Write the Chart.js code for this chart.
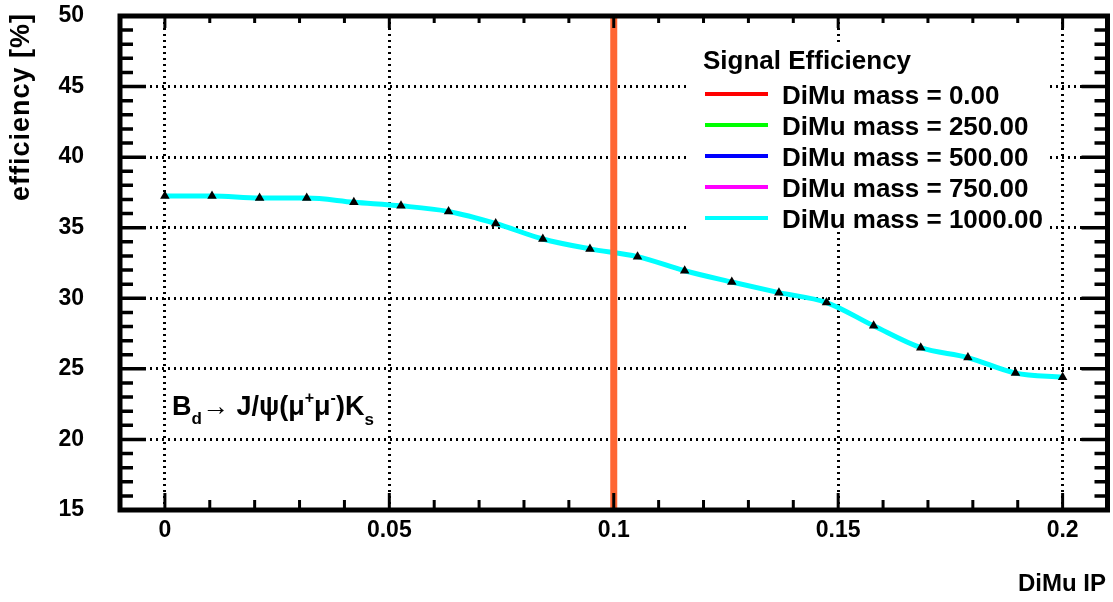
<!DOCTYPE html>
<html>
<head>
<meta charset="utf-8">
<script src="https://cdn.jsdelivr.net/npm/chart.js@4.4.1/dist/chart.umd.min.js"></script>
<style>
  html, body { margin: 0; padding: 0; background: #fff; }
  #wrap { width: 1113px; height: 602px; }
</style>
</head>
<body>
<div id="wrap"><canvas id="effChart" width="1113" height="602"></canvas></div>
<script>
// data
const ipValues = [0, 0.0105, 0.0211, 0.0316, 0.0421, 0.0526, 0.0632, 0.0737, 0.0842, 0.0947,
                  0.1053, 0.1158, 0.1263, 0.1368, 0.1474, 0.1579, 0.1684, 0.1789, 0.1895, 0.2];
const effValues = [37.25, 37.25, 37.1, 37.1, 36.8, 36.55, 36.15, 35.3, 34.2, 33.5,
                   32.95, 31.95, 31.15, 30.4, 29.7, 28.05, 26.5, 25.8, 24.7, 24.4];
const massLabels = ['DiMu mass = 0.00', 'DiMu mass = 250.00', 'DiMu mass = 500.00',
                    'DiMu mass = 750.00', 'DiMu mass = 1000.00'];
const massColors = ['#ff0000', '#00ff00', '#0000ff', '#ff00ff', '#00ffff'];
const xTickValues = [0, 0.05, 0.1, 0.15, 0.2];
const xTickLabels = ['0', '0.05', '0.1', '0.15', '0.2'];
const yTickValues = [15, 20, 25, 30, 35, 40, 45, 50];
const ipCut = [0.1, 0.1];
const cutRange = [15, 50];
const legendTitle = 'Signal Efficiency';
const xTitle = 'DiMu IP';
const yTitle = 'efficiency [%]';

const FONT = "'Liberation Sans', Arial, Helvetica, sans-serif";
const NARROW = "'Liberation Sans Narrow', 'Liberation Sans', Arial, sans-serif";

const points = ipValues.map((x, i) => ({ x, y: effValues[i] }));

const datasets = massLabels.map((label, i) => {
  const top = i === massLabels.length - 1;
  return {
    label,
    data: points,
    borderColor: massColors[i],
    borderWidth: top ? 5 : 3,
    cubicInterpolationMode: 'monotone',
    pointStyle: 'triangle',
    pointRadius: top ? 5.5 : 0,
    pointBackgroundColor: '#000',
    pointBorderColor: '#000',
    pointBorderWidth: 0,
    order: top ? 1 : 2
  };
});

datasets.push({
  label: 'cut',
  data: ipCut.map((x, i) => ({ x, y: cutRange[i] })),
  borderColor: '#ff6633',
  borderWidth: 7,
  pointRadius: 0,
  order: 0
});

// ROOT style frame, ticks, legend, axis titles and the decay label
const rootFrame = {
  id: 'rootFrame',
  afterDraw(chart) {
    const ctx = chart.ctx;
    const { left, right, top, bottom } = chart.chartArea;
    const xs = chart.scales.x, ys = chart.scales.y;
    ctx.save();

    // legend box
    ctx.fillStyle = '#fff';
    ctx.fillRect(690, 46, 358, 186);
    ctx.fillStyle = '#000';
    ctx.font = 'bold 26px ' + FONT;
    ctx.textBaseline = 'alphabetic';
    ctx.textAlign = 'left';
    ctx.fillText(legendTitle, 703, 69);
    const rowY = [94, 125, 156, 187, 218];
    massLabels.forEach((label, i) => {
      ctx.strokeStyle = massColors[i];
      ctx.lineWidth = 4;
      ctx.beginPath();
      ctx.moveTo(705, rowY[i]);
      ctx.lineTo(768, rowY[i]);
      ctx.stroke();
      ctx.fillStyle = '#000';
      ctx.fillText(label, 782, rowY[i] + 10);
    });

    // frame
    ctx.strokeStyle = '#000';
    ctx.lineWidth = 5;
    ctx.strokeRect(left, top, right - left, bottom - top);

    // y ticks (left and right)
    ctx.lineWidth = 3.5;
    for (let v = 15; v <= 50; v++) {
      const py = ys.getPixelForValue(v);
      const len = v % 5 === 0 ? 26 : 13;
      ctx.beginPath();
      ctx.moveTo(left, py); ctx.lineTo(left + len, py);
      ctx.moveTo(right, py); ctx.lineTo(right - len, py);
      ctx.stroke();
    }
    // x ticks (bottom and top)
    ctx.lineWidth = 3;
    for (let k = -1; k <= 21; k++) {
      const px = xs.getPixelForValue(k / 100);
      const major = k % 5 === 0;
      ctx.beginPath();
      ctx.moveTo(px, bottom); ctx.lineTo(px, bottom - (major ? 17 : 10));
      ctx.moveTo(px, top); ctx.lineTo(px, top + (major ? 12 : 7));
      ctx.stroke();
    }

    // axis titles
    ctx.fillStyle = '#000';
    ctx.font = 'bold 24px ' + FONT;
    ctx.textAlign = 'right';
    ctx.textBaseline = 'middle';
    ctx.fillText(xTitle, 1106, 584);

    ctx.save();
    ctx.translate(22, 13);
    ctx.rotate(-Math.PI / 2);
    ctx.font = 'bold 27px ' + FONT;
    if ('letterSpacing' in ctx) ctx.letterSpacing = '1px';
    ctx.textAlign = 'right';
    ctx.fillText(yTitle, 0, 0);
    ctx.restore();

    // decay label
    const parts = [
      ['B', 27, 0], ['d', 17, 9], ['\u2192', 27, 0], [' J/\u03c8(\u03bc', 27, 0],
      ['+', 16, -12], ['\u03bc', 27, 0], ['-', 16, -12], [')K', 27, 0], ['s', 17, 10]
    ];
    let x = 172;
    const base = 415;
    ctx.textAlign = 'left';
    ctx.textBaseline = 'alphabetic';
    parts.forEach(([txt, size, dy]) => {
      ctx.font = 'bold ' + size + 'px ' + FONT;
      ctx.fillText(txt, x, base + dy);
      x += ctx.measureText(txt).width;
    });

    ctx.restore();
  }
};

new Chart(document.getElementById('effChart'), {
  type: 'line',
  data: { datasets },
  options: {
    responsive: false,
    animation: false,
    layout: { padding: { top: 16, right: 3, left: 0, bottom: 0 } },
    plugins: { legend: { display: false }, tooltip: { enabled: false } },
    scales: {
      x: {
        type: 'linear',
        min: -0.01,
        max: 0.21,
        afterBuildTicks: s => { s.ticks = xTickValues.map(v => ({ value: v })); },
        afterFit: s => { s.height = 92; },
        ticks: {
          callback: v => xTickLabels[xTickValues.indexOf(v)] ?? '',
          font: { family: NARROW, size: 23, weight: 'bold' },
          color: '#000',
          padding: 0,
          maxRotation: 0,
          autoSkip: false
        },
        grid: { color: '#000', lineWidth: 3, drawTicks: true, tickLength: 7, tickColor: 'rgba(0,0,0,0)' },
        border: { display: false, dash: [2, 4] }
      },
      y: {
        min: 15,
        max: 50,
        afterBuildTicks: s => { s.ticks = yTickValues.map(v => ({ value: v })); },
        afterFit: s => { s.width = 120; },
        ticks: {
          font: { family: NARROW, size: 23, weight: 'bold' },
          color: '#000',
          padding: 0
        },
        grid: { color: '#000', lineWidth: 3, drawTicks: true, tickLength: 36, tickColor: 'rgba(0,0,0,0)' },
        border: { display: false, dash: [2, 4] }
      }
    }
  },
  plugins: [rootFrame]
});
</script>
</body>
</html>
